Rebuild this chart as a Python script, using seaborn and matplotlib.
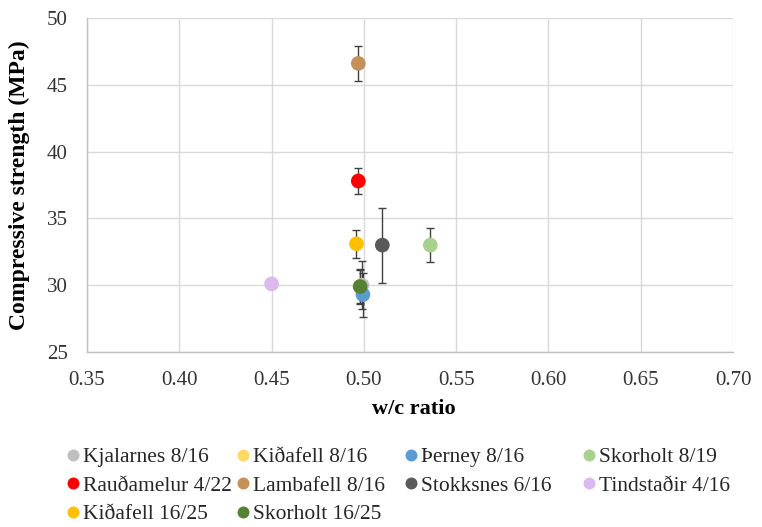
import matplotlib
matplotlib.use("Agg")
import matplotlib.pyplot as plt
import seaborn as sns
import pandas as pd
from matplotlib.lines import Line2D

# Aggregate samples: name, w/c ratio, mean compressive strength, standard deviation
samples = ["Kjalarnes 8/16", "Kiðafell 8/16", "Þerney 8/16", "Skorholt 8/19",
           "Rauðamelur 4/22", "Lambafell 8/16", "Stokksnes 6/16", "Tindstaðir 4/16",
           "Kiðafell 16/25", "Skorholt 16/25"]
wc_ratio = [0.499, 0.498, 0.4995, 0.536, 0.497, 0.497, 0.510, 0.450, 0.496, 0.498]
strength = [30.0, 29.9, 29.3, 33.0, 37.8, 46.6, 33.0, 30.1, 33.1, 29.9]
std_dev = [1.8, 1.3, 1.65, 1.3, 1.0, 1.3, 2.8, 0.3, 1.05, 1.25]
colors = ["#BFBFBF", "#FFD966", "#5B9BD5", "#A9D18E", "#FF0000",
          "#C5905A", "#595959", "#DDB8EE", "#FFC000", "#548235"]

x_ticks = [0.35, 0.40, 0.45, 0.50, 0.55, 0.60, 0.65, 0.70]
y_ticks = [25, 30, 35, 40, 45, 50]

df = pd.DataFrame({"sample": samples, "wc": wc_ratio, "fc": strength, "sd": std_dev})
palette = dict(zip(samples, colors))

sns.set_theme(style="white")
plt.rcParams["font.family"] = ["Liberation Serif", "DejaVu Serif"]

W, H = 762, 527
fig = plt.figure(figsize=(W / 100, H / 100), dpi=100)
ax_left, ax_right, ax_top, ax_bottom = 87, 733, 18, 352
ax = fig.add_axes([ax_left / W, 1 - ax_bottom / H,
                   (ax_right - ax_left) / W, (ax_bottom - ax_top) / H])

# error bars underneath the markers
for _, row in df.iterrows():
    ax.errorbar(row["wc"], row["fc"], yerr=row["sd"], fmt="none",
                ecolor="#404040", elinewidth=1.0, capsize=3.0, capthick=1.0, zorder=2)

sns.scatterplot(data=df, x="wc", y="fc", hue="sample", palette=palette,
                hue_order=samples, s=112, edgecolor="none", legend=False,
                ax=ax, zorder=3)

ax.set_xlim(0.35, 0.70)
ax.set_ylim(25, 50)
ax.set_xticks(x_ticks)
ax.set_xticklabels([f"{t:.2f}" for t in x_ticks])
ax.set_yticks(y_ticks)
ax.set_yticklabels([str(t) for t in y_ticks])
ax.grid(True, color="#D9D9D9", linewidth=1.0)
ax.set_axisbelow(True)
for side in ["top", "right"]:
    ax.spines[side].set_visible(False)
for side in ["left", "bottom"]:
    ax.spines[side].set_color("#BFBFBF")
    ax.spines[side].set_linewidth(1.0)
ax.tick_params(axis="both", labelsize=15, colors="#333333", length=0)
ax.tick_params(axis="x", pad=14)
ax.tick_params(axis="y", pad=14)

ax.set_xlabel("w/c ratio", fontsize=16, fontweight="bold", color="black")
ax.set_ylabel("Compressive strength (MPa)", fontsize=17, fontweight="bold", color="black")
ax.xaxis.set_label_coords((414 - ax_left) / (ax_right - ax_left),
                          -(399 - ax_bottom) / (ax_bottom - ax_top))
ax.yaxis.set_label_coords(-(ax_left - 30) / (ax_right - ax_left), 0.5)

# legend below the plot: four columns, filled row by row
columns = [[0, 4, 8], [1, 5, 9], [2, 6], [3, 7]]
col_marker_x = [73, 243, 411, 589]
legend_top = 447
for idxs, mx in zip(columns, col_marker_x):
    handles = [Line2D([], [], marker="o", linestyle="none", markersize=8.6,
                      markerfacecolor=colors[i], markeredgecolor="none") for i in idxs]
    leg = fig.legend(handles, [samples[i] for i in idxs],
                     loc="upper left", bbox_to_anchor=((mx - 5.5) / W, 1 - legend_top / H),
                     frameon=False, fontsize=15.5, handlelength=0.5, handletextpad=0.2,
                     labelspacing=0.4, borderpad=0, borderaxespad=0)

fig.savefig("out.png", dpi=100)
